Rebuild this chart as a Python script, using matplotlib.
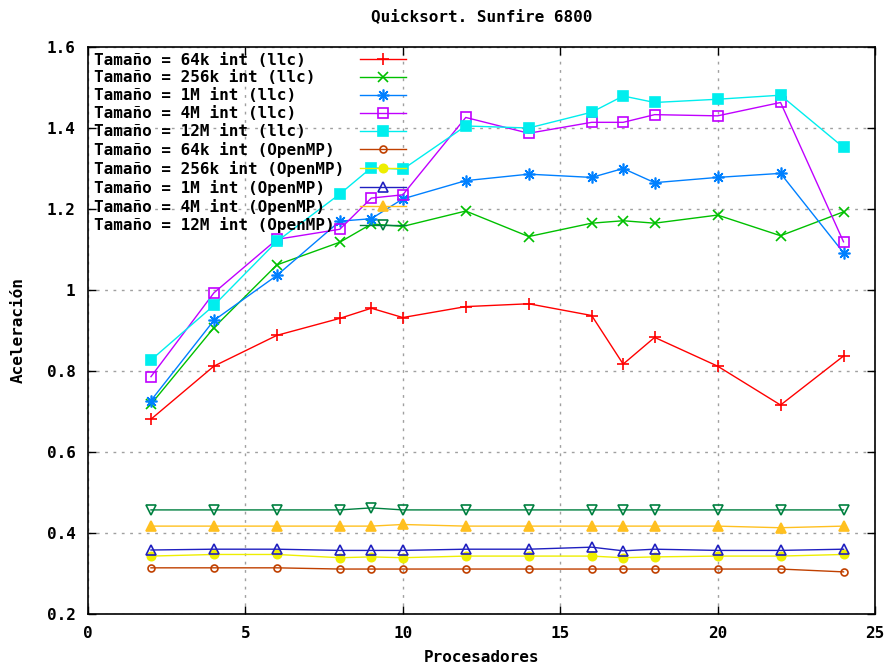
import matplotlib
matplotlib.use("Agg")
import matplotlib.pyplot as plt
from matplotlib.ticker import FormatStrFormatter, MultipleLocator

# speedup of quicksort vs. number of processors
procs = [2, 4, 6, 8, 9, 10, 12, 14, 16, 17, 18, 20, 22, 24]

llc_64k = [0.681, 0.812, 0.888, 0.930, 0.955, 0.932, 0.959, 0.966, 0.937, 0.817, 0.883, 0.812, 0.716, 0.837]
llc_256k = [0.718, 0.907, 1.062, 1.118, 1.163, 1.157, 1.195, 1.132, 1.165, 1.171, 1.165, 1.185, 1.134, 1.193]
llc_1m = [0.727, 0.925, 1.036, 1.170, 1.176, 1.225, 1.270, 1.286, 1.278, 1.300, 1.265, 1.278, 1.288, 1.092]
llc_4m = [0.786, 0.993, 1.125, 1.150, 1.227, 1.235, 1.426, 1.387, 1.414, 1.414, 1.433, 1.430, 1.463, 1.119]
llc_12m = [0.827, 0.962, 1.120, 1.237, 1.302, 1.298, 1.405, 1.400, 1.439, 1.479, 1.463, 1.471, 1.481, 1.352]

omp_64k = [0.314, 0.314, 0.314, 0.311, 0.311, 0.311, 0.311, 0.311, 0.311, 0.311, 0.311, 0.311, 0.311, 0.304]
omp_256k = [0.343, 0.347, 0.347, 0.339, 0.341, 0.339, 0.343, 0.343, 0.343, 0.339, 0.341, 0.343, 0.343, 0.347]
omp_1m = [0.358, 0.360, 0.360, 0.357, 0.357, 0.357, 0.360, 0.360, 0.365, 0.356, 0.360, 0.357, 0.357, 0.360]
omp_4m = [0.417, 0.417, 0.417, 0.417, 0.417, 0.421, 0.417, 0.417, 0.417, 0.417, 0.417, 0.417, 0.413, 0.417]
omp_12m = [0.457, 0.457, 0.457, 0.457, 0.462, 0.457, 0.457, 0.457, 0.457, 0.457, 0.457, 0.457, 0.457, 0.457]

labels = [
    "Tamaño = 64k int (llc)",
    "Tamaño = 256k int (llc)",
    "Tamaño = 1M int (llc)",
    "Tamaño = 4M int (llc)",
    "Tamaño = 12M int (llc)",
    "Tamaño = 64k int (OpenMP)",
    "Tamaño = 256k int (OpenMP)",
    "Tamaño = 1M int (OpenMP)",
    "Tamaño = 4M int (OpenMP)",
    "Tamaño = 12M int (OpenMP)",
]
series = [llc_64k, llc_256k, llc_1m, llc_4m, llc_12m,
          omp_64k, omp_256k, omp_1m, omp_4m, omp_12m]

# gnuplot-like colours and point types
colors = ["#ff0000", "#00c000", "#0080ff", "#c000ff", "#00eeee",
          "#c04000", "#eeee00", "#2020c0", "#ffc020", "#008040"]
markers = ["+", "x", (8, 2, 0), "s", "s", "o", "o", "^", "^", "v"]
filled = [True, True, True, False, True, False, True, False, True, False]
msizes = [9, 7, 8.5, 7, 7, 5, 6, 7, 7, 7]

plt.rcParams['font.family'] = ['DejaVu Sans Mono']
plt.rcParams['font.weight'] = 'bold'

fig = plt.figure(figsize=(8.89, 6.68), dpi=100)
ax = fig.add_axes([88 / 889, 54 / 668, 787 / 889, 567 / 668])

# pad labels so the monospace legend text lines up on the left
width = max(len(l) for l in labels) + 1
for y, lab, c, m, f, ms in zip(series, labels, colors, markers, filled, msizes):
    ax.plot(procs, y, color=c, lw=1.0, marker=m, markersize=ms,
            markerfacecolor=c if f else "none", markeredgecolor=c,
            markeredgewidth=1.2, label=lab.ljust(width))

ax.set_xlim(0, 25)
ax.set_ylim(0.2, 1.6)
ax.xaxis.set_major_locator(MultipleLocator(5))
ax.yaxis.set_major_locator(MultipleLocator(0.2))
ax.yaxis.set_major_formatter(FormatStrFormatter("%g"))
ax.tick_params(direction="in", length=6, width=1, top=True, right=True,
               labelsize=11.5, pad=9)
ax.grid(True, color="#a0a0a0", linestyle=(0, (2, 4)), linewidth=1)
for s in ax.spines.values():
    s.set_linewidth(1.2)

ax.set_title("Quicksort. Sunfire 6800", fontsize=11.5, fontweight="bold", pad=19)
ax.set_xlabel("Procesadores", fontsize=11.5, fontweight="bold", labelpad=6)
ax.set_ylabel("Aceleración", fontsize=11.5, fontweight="bold", labelpad=15)

ax.legend(loc="upper left", frameon=False, markerfirst=False, fontsize=11.5,
          handlelength=2.9, handletextpad=0.4, labelspacing=0.18,
          borderpad=0, borderaxespad=0.35)

fig.savefig("out.png", dpi=100)
